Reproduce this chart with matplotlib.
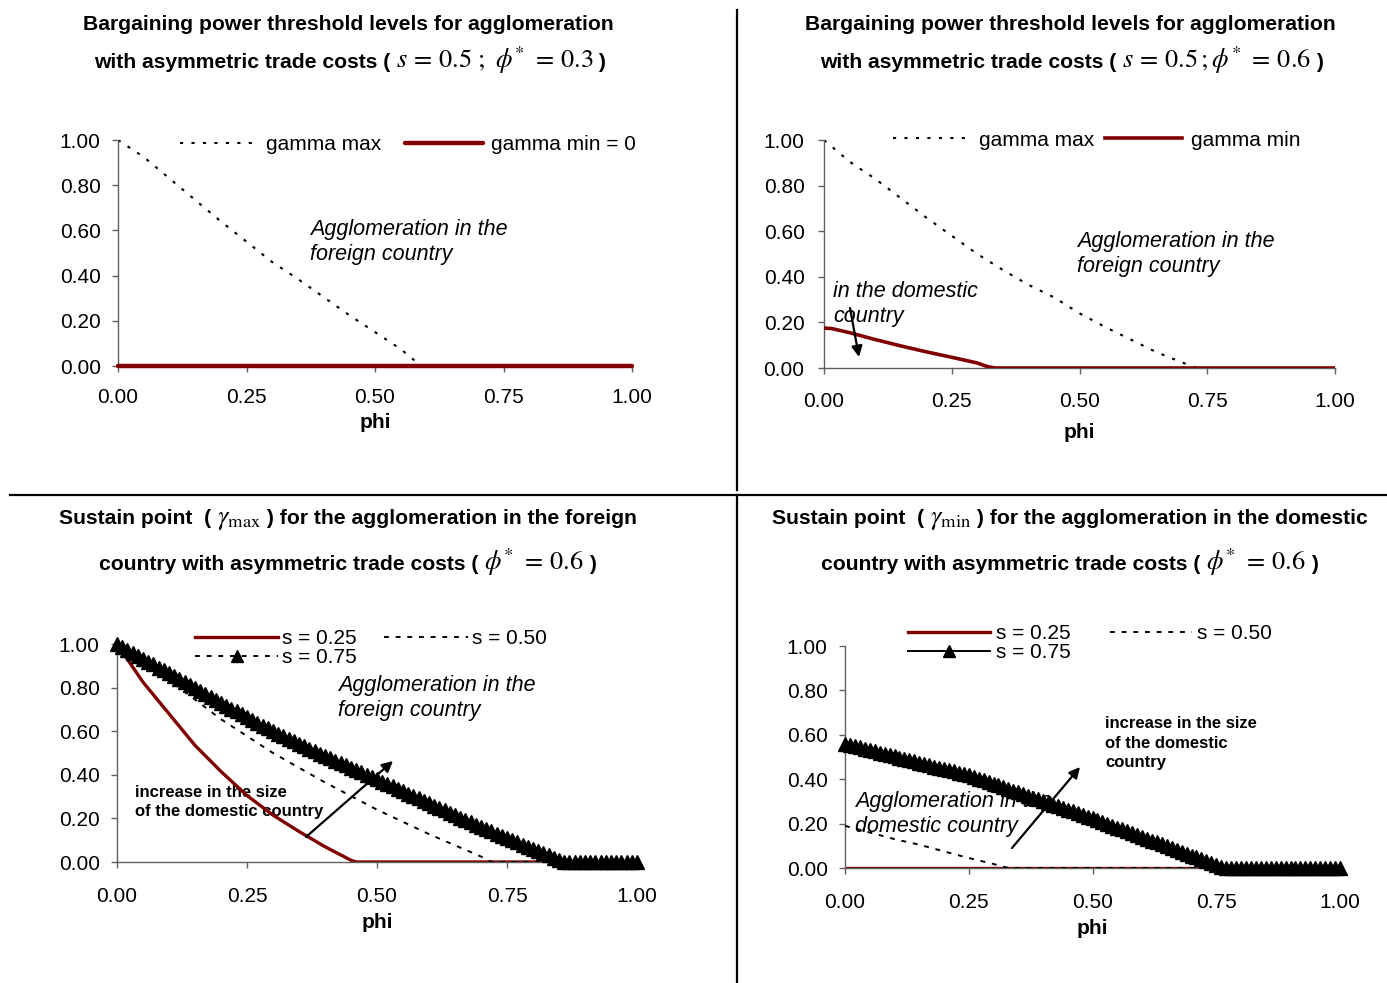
"""Four panels: bargaining power thresholds / sustain points vs phi."""

import matplotlib

matplotlib.use("Agg")
import matplotlib.pyplot as plt
import numpy as np
from matplotlib.lines import Line2D
from matplotlib.offsetbox import AnchoredOffsetbox, HPacker, TextArea

plt.rcParams["font.family"] = ["Liberation Sans", "DejaVu Sans"]
plt.rcParams["mathtext.fontset"] = "stix"

W, H = 1387, 983
DARKRED = "#800000"
AXCOL = "#606060"

x_ticks = [0.0, 0.25, 0.5, 0.75, 1.0]
y_ticks = [0.0, 0.2, 0.4, 0.6, 0.8, 1.0]

# ---- panel 1 : s = 0.5, phi* = 0.3
p1_phi = [0.00, 0.05, 0.10, 0.15, 0.20, 0.25, 0.30, 0.35, 0.40, 0.45, 0.50, 0.55, 0.59, 1.00]
p1_gamma_max = [1.00, 0.925, 0.83, 0.735, 0.64, 0.55, 0.46, 0.385, 0.305, 0.225, 0.15, 0.075, 0.00, 0.00]
p1_phi_min = [0.00, 1.00]
p1_gamma_min = [0.00, 0.00]

# ---- panel 2 : s = 0.5, phi* = 0.6
p2_phi_max = [0.00, 0.05, 0.10, 0.15, 0.20, 0.25, 0.30, 0.35, 0.40, 0.45, 0.50, 0.55, 0.60, 0.65, 0.70, 0.73, 1.00]
p2_gamma_max = [1.00, 0.905, 0.83, 0.745, 0.66, 0.58, 0.50, 0.43, 0.365, 0.31, 0.24, 0.18, 0.125, 0.07, 0.025, 0.00, 0.00]
p2_phi_min = [0.00, 0.015, 0.05, 0.10, 0.15, 0.20, 0.25, 0.30, 0.32, 0.335, 1.00]
p2_gamma_min = [0.175, 0.173, 0.155, 0.125, 0.097, 0.071, 0.047, 0.022, 0.006, 0.00, 0.00]

# ---- panel 3 : gamma max for s = 0.25 / 0.50 / 0.75
p3_phi_s25 = [0.00, 0.05, 0.10, 0.15, 0.20, 0.25, 0.30, 0.35, 0.40, 0.45, 0.46, 1.00]
p3_s25 = [1.00, 0.825, 0.68, 0.535, 0.415, 0.305, 0.215, 0.14, 0.07, 0.008, 0.00, 0.00]
p3_phi_s50 = [0.00, 0.10, 0.20, 0.30, 0.40, 0.50, 0.60, 0.70, 0.72, 1.00]
p3_s50 = [1.00, 0.835, 0.655, 0.50, 0.365, 0.24, 0.128, 0.025, 0.00, 0.00]
phi_grid = np.round(np.linspace(0, 1, 101), 2)
p3_s75 = [1.000, 0.987, 0.973, 0.960, 0.946, 0.933, 0.919, 0.906, 0.892, 0.879, 0.865,
          0.851, 0.838, 0.824, 0.811, 0.797, 0.784, 0.770, 0.757, 0.743, 0.730,
          0.717, 0.704, 0.691, 0.678, 0.665, 0.652, 0.639, 0.626, 0.613, 0.600,
          0.589, 0.577, 0.566, 0.554, 0.543, 0.531, 0.520, 0.508, 0.497, 0.485,
          0.475, 0.464, 0.454, 0.443, 0.433, 0.422, 0.412, 0.401, 0.391, 0.380,
          0.369, 0.358, 0.347, 0.336, 0.325, 0.314, 0.303, 0.292, 0.281, 0.270,
          0.259, 0.248, 0.237, 0.226, 0.215, 0.204, 0.193, 0.182, 0.171, 0.160,
          0.150, 0.140, 0.130, 0.120, 0.110, 0.100, 0.090, 0.080, 0.070, 0.060,
          0.050, 0.040, 0.030, 0.020, 0.010, 0.000, 0.000, 0.000, 0.000, 0.000,
          0.000, 0.000, 0.000, 0.000, 0.000, 0.000, 0.000, 0.000, 0.000, 0.000]

# ---- panel 4 : gamma min for s = 0.25 / 0.50 / 0.75
p4_phi_s25 = [0.00, 1.00]
p4_s25 = [0.00, 0.00]
p4_phi_s50 = [0.00, 0.05, 0.10, 0.15, 0.20, 0.25, 0.30, 0.33, 1.00]
p4_s50 = [0.19, 0.16, 0.13, 0.105, 0.075, 0.045, 0.018, 0.00, 0.00]
p4_s75 = [0.560, 0.554, 0.549, 0.543, 0.537, 0.532, 0.526, 0.520, 0.514, 0.509, 0.503,
          0.497, 0.492, 0.486, 0.480, 0.474, 0.469, 0.463, 0.457, 0.452, 0.446,
          0.440, 0.435, 0.429, 0.423, 0.417, 0.411, 0.403, 0.395, 0.388, 0.380,
          0.372, 0.364, 0.356, 0.348, 0.341, 0.333, 0.325, 0.317, 0.309, 0.302,
          0.294, 0.286, 0.278, 0.270, 0.263, 0.255, 0.247, 0.239, 0.231, 0.224,
          0.216, 0.207, 0.199, 0.190, 0.182, 0.174, 0.165, 0.157, 0.148, 0.140,
          0.132, 0.123, 0.115, 0.106, 0.098, 0.090, 0.081, 0.073, 0.064, 0.056,
          0.048, 0.039, 0.031, 0.022, 0.014, 0.006, 0.000, 0.000, 0.000, 0.000,
          0.000, 0.000, 0.000, 0.000, 0.000, 0.000, 0.000, 0.000, 0.000, 0.000,
          0.000, 0.000, 0.000, 0.000, 0.000, 0.000, 0.000, 0.000, 0.000, 0.000]

fig = plt.figure(figsize=(W / 100, H / 100), dpi=100)


def px(x, y):
    return (x / W, 1 - y / H)


def make_ax(x0, y_top, x1, y_bot, xpad=12, ypad=8.5):
    ax = fig.add_axes([x0 / W, 1 - y_bot / H, (x1 - x0) / W, (y_bot - y_top) / H])
    ax.set_xlim(0, 1)
    ax.set_ylim(0, 1)
    ax.patch.set_visible(False)
    for s in ("top", "right"):
        ax.spines[s].set_visible(False)
    for s in ("left", "bottom"):
        ax.spines[s].set_color(AXCOL)
        ax.spines[s].set_linewidth(1)
    ax.set_xticks(x_ticks)
    ax.set_xticklabels([f"{v:.2f}" for v in x_ticks])
    ax.set_yticks(y_ticks)
    ax.set_yticklabels([f"{v:.2f}" for v in y_ticks])
    ax.tick_params(direction="out", length=4, width=1, color=AXCOL, labelsize=15)
    ax.tick_params(axis="x", pad=xpad)
    ax.tick_params(axis="y", pad=ypad)
    return ax


def title_line(parts, cx, cy):
    boxes = [TextArea(s, textprops=p) for s, p in parts]
    pack = HPacker(children=boxes, align="baseline", pad=0, sep=0)
    ab = AnchoredOffsetbox(loc="center", child=pack, pad=0, borderpad=0, frameon=False,
                           bbox_to_anchor=px(cx, cy), bbox_transform=fig.transFigure)
    fig.add_artist(ab)


def note(ax, x, y, s, **kw):
    opts = dict(ha="left", va="center", fontsize=15.5, style="italic", linespacing=1.25,
                transform=fig.transFigure, zorder=1, clip_on=False)
    opts.update(kw)
    ax.text(*px(x, y), s, **opts)


def arrow(ax, tail, head):
    ax.annotate("", xy=px(*head), xycoords="figure fraction", xytext=px(*tail),
                textcoords="figure fraction", annotation_clip=False,
                arrowprops=dict(arrowstyle="-|>", color="black", lw=1.6, mutation_scale=16,
                                shrinkA=0, shrinkB=0))


B = dict(fontsize=15.2, fontweight="bold")
M = dict(fontsize=19)
BIG = dict(fontsize=12, fontweight="bold")

# ---------------- panel 1
ax1 = make_ax(118, 140, 632, 366)
l1a, = ax1.plot(p1_phi, p1_gamma_max, color="black", lw=1.5, ls=(0, (1.5, 4)), zorder=2)
l1b, = ax1.plot(p1_phi_min, p1_gamma_min, color=DARKRED, lw=3.2, zorder=3, clip_on=False,
                solid_capstyle="round")
ax1.legend([l1a, l1b], ["gamma max", "gamma min = 0"], loc="center left",
           bbox_to_anchor=px(180, 145), bbox_transform=fig.transFigure, ncol=2,
           frameon=False, fontsize=15, borderpad=0, borderaxespad=0,
           handlelength=3.75, handletextpad=0.4, columnspacing=1.1)
ax1.set_xlabel("phi", fontsize=15, fontweight="bold", labelpad=4)
note(ax1, 310, 242, "Agglomeration in the\nforeign country")
title_line([("Bargaining power threshold levels for agglomeration", B)], 348, 24)
title_line([("with asymmetric trade costs ( ", B), (r"$s\,=\,0.5\ ;\ \phi^{*}\ =\,0.3$", M),
            (" )", B)], 350, 60)

# ---------------- panel 2
ax2 = make_ax(824, 140, 1335, 368, xpad=13, ypad=10)
l2a, = ax2.plot(p2_phi_max, p2_gamma_max, color="black", lw=1.5, ls=(0, (1.5, 4)), zorder=2)
l2b, = ax2.plot(p2_phi_min, p2_gamma_min, color=DARKRED, lw=2.6, zorder=3)
ax2.legend([l2a, l2b], ["gamma max", "gamma min"], loc="center left",
           bbox_to_anchor=px(893, 140), bbox_transform=fig.transFigure, ncol=2,
           frameon=False, fontsize=15, borderpad=0, borderaxespad=0,
           handlelength=3.7, handletextpad=0.43, columnspacing=0.5)
ax2.set_xlabel("phi", fontsize=15, fontweight="bold", labelpad=9)
note(ax2, 1077, 254, "Agglomeration in the\nforeign country")
note(ax2, 833, 304, "in the domestic\ncountry")
arrow(ax2, (850, 308), (859, 357))
title_line([("Bargaining power threshold levels for agglomeration", B)], 1070, 24)
title_line([("with asymmetric trade costs ( ", B), (r"$s\,=\,0.5\,;\phi^{*}\ =\,0.6$", M),
            (" )", B)], 1072, 60)

# ---------------- panel 3
ax3 = make_ax(117, 644, 637, 862, xpad=14)
l3a, = ax3.plot(p3_phi_s25, p3_s25, color=DARKRED, lw=2.4, zorder=2)
l3b, = ax3.plot(p3_phi_s50, p3_s50, color="black", lw=1.4, ls=(0, (2.5, 3.5)), zorder=3)
l3c, = ax3.plot(phi_grid, p3_s75, color="black", lw=1.4, ls=(0, (2.5, 3.5)), marker="^",
                ms=10, zorder=4, clip_on=False)
ax3.legend([l3a, l3c, l3b], ["s = 0.25", "s = 0.75", "s = 0.50"], loc="center left",
           bbox_to_anchor=px(195, 648), bbox_transform=fig.transFigure, ncol=2,
           frameon=False, fontsize=15, borderpad=0, borderaxespad=0, labelspacing=0.0,
           handlelength=4.0, handletextpad=0.2, columnspacing=1.3, markerscale=0.9)
ax3.set_xlabel("phi", fontsize=15, fontweight="bold", labelpad=5)
note(ax3, 338, 698, "Agglomeration in the\nforeign country")
note(ax3, 135, 802, "increase in the size\nof the domestic country", style="normal",
     linespacing=1.35, **BIG)
arrow(ax3, (306, 837), (393, 761))
title_line([("Sustain point  ( ", B), (r"$\gamma_{\rm max}$", M),
            (" ) for the agglomeration in the foreign", B)], 348, 518)
title_line([("country with asymmetric trade costs ( ", B), (r"$\phi^{*}\ =\,0.6$", M),
            (" )", B)], 348, 562)

# ---------------- panel 4
ax4 = make_ax(845, 646, 1340, 868, xpad=14)
l4a, = ax4.plot(p4_phi_s25, p4_s25, color=DARKRED, lw=2.4, zorder=2)
l4b, = ax4.plot(p4_phi_s50, p4_s50, color="black", lw=1.4, ls=(0, (2.5, 3.5)), zorder=3)
l4c, = ax4.plot(phi_grid, p4_s75, color="black", lw=1.4, marker="^", ms=10, zorder=4,
                clip_on=False)
ax4.legend([l4a, l4c, l4b], ["s = 0.25", "s = 0.75", "s = 0.50"], loc="center left",
           bbox_to_anchor=px(908, 643), bbox_transform=fig.transFigure, ncol=2,
           frameon=False, fontsize=15, borderpad=0, borderaxespad=0, labelspacing=0.0,
           handlelength=3.95, handletextpad=0.25, columnspacing=1.9, markerscale=0.9)
ax4.set_xlabel("phi", fontsize=15, fontweight="bold", labelpad=5)
note(ax4, 1105, 743, "increase in the size\nof the domestic\ncountry", style="normal",
     linespacing=1.35, **BIG)
note(ax4, 855, 814, "Agglomeration in the\ndomestic country")
arrow(ax4, (1012, 848), (1080, 767))
title_line([("Sustain point  ( ", B), (r"$\gamma_{\rm min}$", M),
            (" ) for the agglomeration in the domestic", B)], 1070, 518)
title_line([("country with asymmetric trade costs ( ", B), (r"$\phi^{*}\ =\,0.6$", M),
            (" )", B)], 1070, 562)

# ---------------- dividers
for (xa, ya), (xb, yb) in [((737, 10), (737, 490)), ((737, 497), (737, 983)),
                           ((10, 495), (1387, 495))]:
    fig.add_artist(Line2D([xa / W, xb / W], [1 - ya / H, 1 - yb / H], color="black",
                          lw=1.6, transform=fig.transFigure))

fig.savefig("out.png", dpi=100)
